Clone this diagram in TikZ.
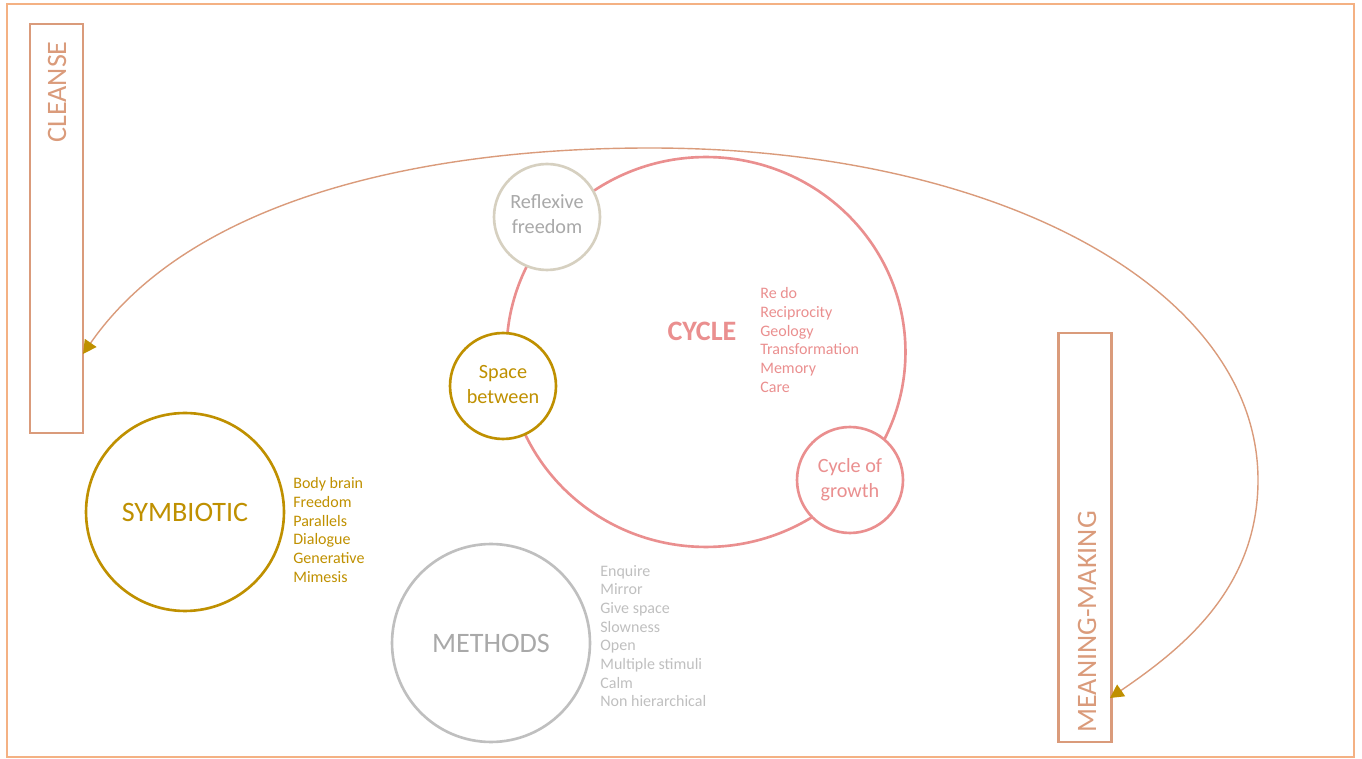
\documentclass[tikz,border=0pt]{standalone}
\usepackage{fontspec}
\setmainfont{Carlito}
\usepackage{tikz}
\usetikzlibrary{positioning,shapes,arrows.meta}
\definecolor{frame}{HTML}{F4B183}
\definecolor{clay}{HTML}{DA9B7B}
\definecolor{gold}{HTML}{BF9000}
\definecolor{rose}{HTML}{EA8F8F}
\definecolor{sand}{HTML}{D6D0C0}
\definecolor{ash}{HTML}{BFBFBF}
\definecolor{ashtext}{HTML}{A9A9A9}
\tikzstyle{bar}=[%
      rectangle, draw=clay, line width=1.6pt, fill=none,
      minimum width=1.06cm, minimum height=8.18cm, inner sep=0pt
]
\tikzstyle{bartext}=[%
      rotate=90, inner sep=0pt, text=clay, font=\fontsize{16}{19}\selectfont
]
\tikzstyle{bigring}=[%
      circle, line width=1.5pt, fill=white, minimum size=3.96cm, inner sep=0pt,
      font=\fontsize{16}{19}\selectfont
]
\tikzstyle{ring}=[%
      circle, line width=1.5pt, fill=white, minimum size=2.12cm, inner sep=0pt,
      align=center, font=\fontsize{11.5}{14.2}\selectfont
]
\tikzstyle{items}=[%
      anchor=west, align=left, inner sep=0pt, font=\fontsize{9.1}{10.6}\selectfont
]

\begin{document}
\begin{tikzpicture}[x=0.02cm, y=-0.02cm]
    \useasboundingbox (0,0) rectangle (1362,759);
    \draw[frame, line width=1.2pt] (7,4) rectangle (1354,757);

    \node[bar] (cleanse) at (56.5,228.5) {};
    \node[bar] (meaning) at (1085,537.5) {};
    \node[bartext] (cleansetxt) at (57,92)  {CLEANSE};
    \node[bartext] (meaningtxt) at (1087,622) {MEANING-MAKING};

    % the cycle and the three rings sitting on it
    \node[ellipse, draw=rose, line width=1.5pt, minimum width=7.98cm, minimum height=7.8cm] (cycle) at (706,352) {};
    \node[font=\fontsize{16}{19}\selectfont\bfseries, text=rose] (cycletxt) at (702,331) {CYCLE};
    \node[items, text=rose] (cyclelist) at (760,340) {Re do\\Reciprocity\\Geology\\Transformation\\Memory\\Care};

    \node[ring, draw=sand, text=ashtext, text depth=0.6ex] (reflex) at (547,217) {Reflexive\\freedom};
    \node[ring, draw=gold, text=gold, text depth=0.4ex]    (space)  at (503,386) {Space\\between};
    \node[ring, draw=rose, text=rose]    (growth) at (850,480) {Cycle of\\growth};

    \node[bigring, draw=gold, text=gold] (symb) at (185,512) {SYMBIOTIC};
    \node[items, text=gold] (symblist) at (293,530) {Body brain\\Freedom\\Parallels\\Dialogue\\Generative\\Mimesis};

    \node[bigring, draw=ash, text=ashtext] (methods) at (491,643) {METHODS};
    \node[items, text=ash] (methodslist) at (600,636) {Enquire\\Mirror\\Give space\\Slowness\\Open\\Multiple stimuli\\Calm\\Non hierarchical};

    % long loop between the two bars
    \coordinate (inleft)  at (83,354);
    \coordinate (inright) at (1110,698);
    \draw[clay, line width=0.8pt,
          {Triangle[color=gold,length=0.27cm,width=0.28cm]}-{Triangle[color=gold,length=0.27cm,width=0.28cm]}]
        (inleft) .. controls (190,200) and (420,148) .. (650,148)
                 .. controls (1000,148) and (1258,290) .. (1258,480)
                 .. controls (1258,590) and (1180,650) .. (inright);
\end{tikzpicture}
\end{document}
